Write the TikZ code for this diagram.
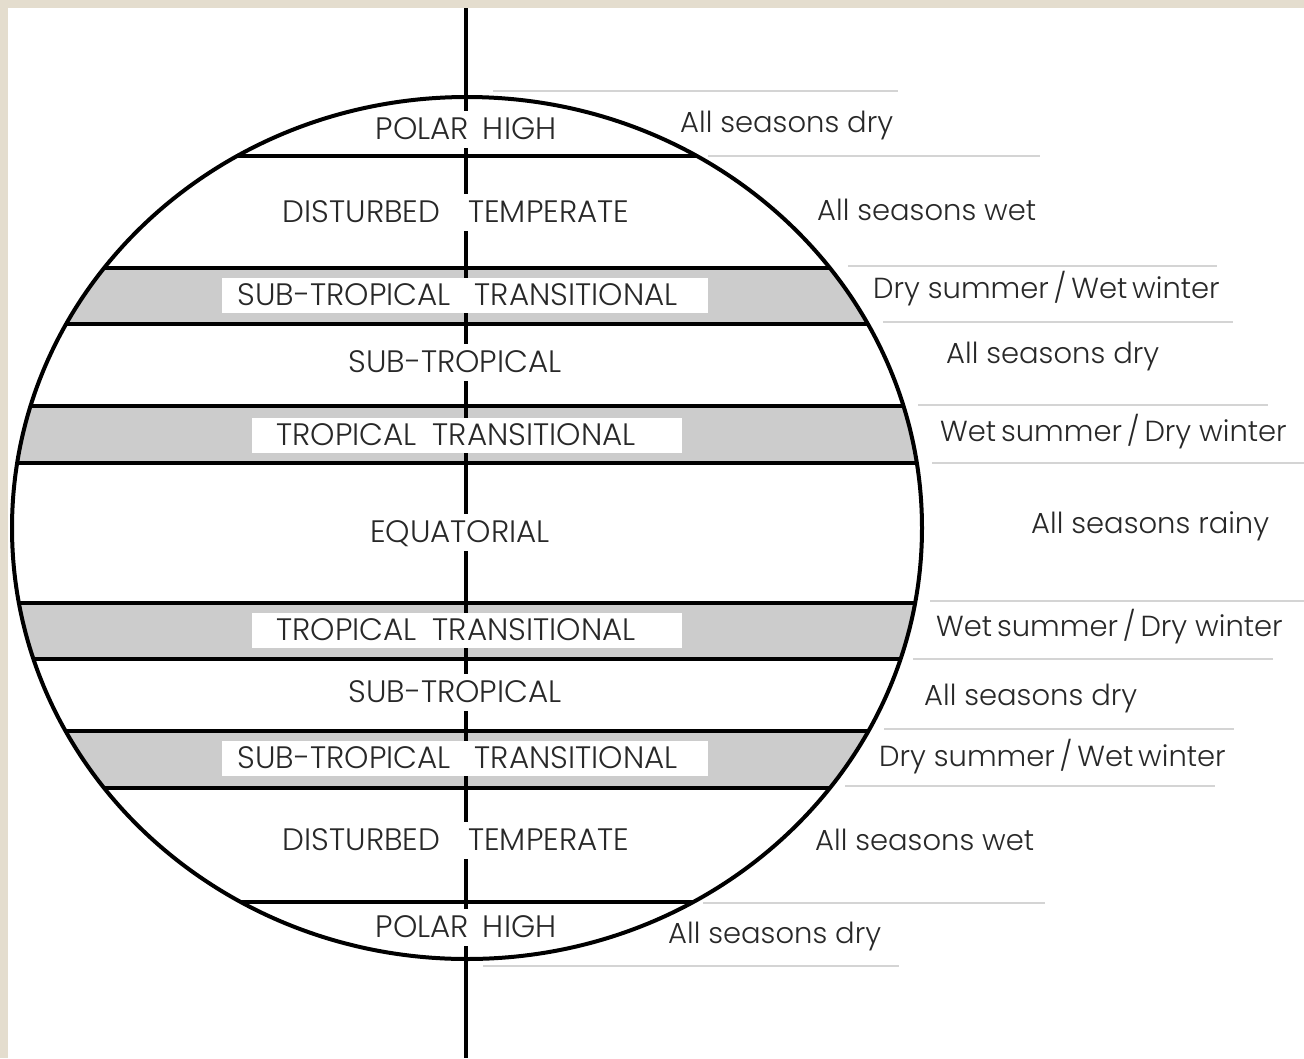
\documentclass[tikz,border=0pt]{standalone}
\usepackage{fontspec}
\IfFontExistsTF{Poppins Light}{\setmainfont{Poppins Light}}{\setmainfont{Poppins}}
\usepackage{tikz}
\usetikzlibrary{positioning, calc}

\definecolor{bandgray}{RGB}{204,204,204}
\definecolor{rulegray}{RGB}{212,212,212}
\definecolor{paper}{RGB}{228,221,206}
\definecolor{ink}{RGB}{40,40,40}

\begin{document}
\begin{tikzpicture}[
    x=1pt, y=-1pt,
    bar/.style={line width=4pt, black},
    rule/.style={line width=1.8pt, rulegray},
    zone/.style={fill=white, inner xsep=2pt, inner ysep=0pt, minimum height=37pt,
      text height=21pt, text depth=0pt, text=ink, font=\fontsize{31}{34}\selectfont},
    tagbox/.style={fill=white, inner sep=0pt, minimum height=35pt,
      text height=21pt, text depth=0pt, text=ink, font=\fontsize{31}{34}\selectfont},
    climate/.style={anchor=west, inner sep=0pt, text height=22pt, text depth=6pt,
      text=ink, font=\fontsize{29}{32}\selectfont}
]
    \useasboundingbox (0,0) rectangle (1304,1058);

    % page
    \fill[paper] (0,0) rectangle (1304,1058);
    \fill[white] (8,8) rectangle (1304,1058);

    % globe
    \coordinate (centre) at (467,528);
    \coordinate (north) at (466,8);
    \coordinate (south) at (466,1058);

    \begin{scope}
        \clip (centre) ellipse [x radius=455, y radius=431];
        \fill[bandgray] (0,268) rectangle (940,324);
        \fill[bandgray] (0,406) rectangle (940,463);
        \fill[bandgray] (0,603) rectangle (940,659);
        \fill[bandgray] (0,731) rectangle (940,788);
        \foreach \y in {156,268,324,406,463,603,659,731,788,902}
            \draw[bar] (0,\y) -- (940,\y);
    \end{scope}
    \draw[bar] (north) -- (south);
    \draw[bar] (centre) ellipse [x radius=455, y radius=431];

    % zones
    \node[zone] (polarN) at (466,129) {POLAR\hspace{14pt}HIGH};
    \node[zone] (tempN) at (456,212) {DISTURBED\hspace{28pt}TEMPERATE};
    \node[tagbox, minimum width=486pt] (subtransN) at (465,295)
        {SUB-TROPICAL\hspace{24pt}TRANSITIONAL\hspace*{15pt}};
    \node[zone] (subN) at (455,362) {SUB-TROPICAL};
    \node[tagbox, minimum width=430pt] (tropN) at (467,435)
        {TROPICAL\hspace{16pt}TRANSITIONAL\hspace*{22pt}};
    \node[zone] (equator) at (460,532) {EQUATORIAL};
    \node[tagbox, minimum width=430pt] (tropS) at (467,630)
        {TROPICAL\hspace{16pt}TRANSITIONAL\hspace*{22pt}};
    \node[zone] (subS) at (455,692) {SUB-TROPICAL};
    \node[tagbox, minimum width=486pt] (subtransS) at (465,758)
        {SUB-TROPICAL\hspace{24pt}TRANSITIONAL\hspace*{15pt}};
    \node[zone] (tempS) at (456,840) {DISTURBED\hspace{28pt}TEMPERATE};
    \node[zone] (polarS) at (466,927) {POLAR\hspace{14pt}HIGH};

    % climates
    \draw[rule] (493,91) -- (898,91);
    \draw[rule] (708,156) -- (1040,156);
    \draw[rule] (848,266) -- (1217,266);
    \draw[rule] (883,322) -- (1233,322);
    \draw[rule] (918,405) -- (1268,405);
    \draw[rule] (932,463) -- (1304,463);
    \draw[rule] (930,601) -- (1304,601);
    \draw[rule] (913,659) -- (1273,659);
    \draw[rule] (884,729) -- (1234,729);
    \draw[rule] (845,786) -- (1215,786);
    \draw[rule] (703,903) -- (1045,903);
    \draw[rule] (483,966) -- (899,966);

    \node[climate] (dryN) at (680,124) {All seasons dry};
    \node[climate] (wetN) at (817,212) {All seasons wet};
    \node[climate] (dsN) at (873,290) {Dry summer\,/\,Wet\,winter};
    \node[climate] (arid1) at (946,355) {All seasons dry};
    \node[climate] (wsN) at (940,433) {Wet\,summer\,/\,Dry winter};
    \node[climate] (rainy) at (1031,525) {All seasons rainy};
    \node[climate] (wsS) at (936,628) {Wet\,summer\,/\,Dry winter};
    \node[climate] (arid2) at (924,697) {All seasons dry};
    \node[climate] (dsS) at (879,758) {Dry summer\,/\,Wet\,winter};
    \node[climate] (wetS) at (815,842) {All seasons wet};
    \node[climate] (dryS) at (668,935) {All seasons dry};

\end{tikzpicture}
\end{document}
